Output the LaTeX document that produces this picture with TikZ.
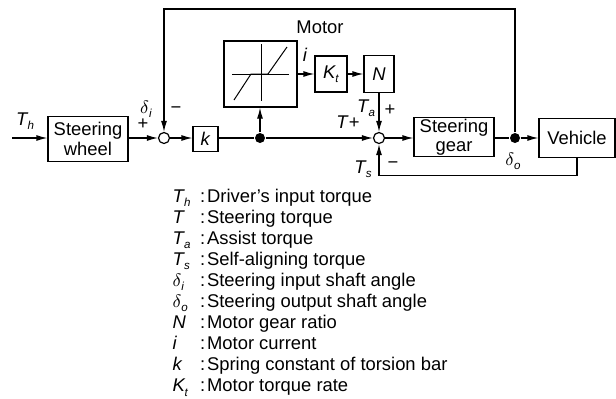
\documentclass[tikz,border=0pt]{standalone}
\usepackage{fontspec}
\setmainfont{Liberation Sans}
\usetikzlibrary{arrows.meta,positioning}
\newcommand{\subx}[1]{\raisebox{-0.45ex}{\fontsize{5.8}{6}\selectfont\textit{#1}}}
\newcommand{\var}[2]{\textit{#1}\kern-0.4pt\subx{#2}}
\newcommand{\dvar}[1]{$\delta$\subx{#1}}

\begin{document}
\begin{tikzpicture}[x=0.5pt,y=-0.5pt,line width=0.6pt,
    font=\fontsize{9.2}{9.6}\selectfont,
    blk/.style={draw,align=center,inner sep=0pt},
    sumpt/.style={draw,circle,fill=white,minimum size=5.5pt,inner sep=0pt},
    dotpt/.style={circle,fill,minimum size=5pt,inner sep=0pt},
    sig/.style={-{Latex[length=5.5pt,width=3pt]}}]
    \useasboundingbox (0,0) rectangle (616,398);
    % blocks of the loop
    \coordinate (in) at (12,138);
    \node [blk,minimum width=40pt,minimum height=22.5pt] (wheel) at (88,139) {Steering\\wheel};
    \node [sumpt] (sumA) at (164,138) {};
    \node [blk,minimum width=12.5pt,minimum height=12.5pt] (kbox) at (205.5,139) {\textit{k}};
    \node [dotpt] (dotA) at (260,138) {};
    \node [blk,minimum width=36.5pt,minimum height=33pt] (motor) at (260.5,74) {};
    \node [blk,minimum width=16pt,minimum height=18pt] (kt) at (331,74) {\var{K}{t}};
    \node [blk,minimum width=15pt,minimum height=18.5pt] (nbox) at (379,74) {\textit{N}};
    \node [sumpt] (sumB) at (379,138) {};
    \node [blk,minimum width=40pt,minimum height=19.5pt] (gear) at (454,137) {Steering\\gear};
    \node [dotpt] (dotB) at (515,138) {};
    \node [blk,minimum width=38pt,minimum height=19.5pt] (vehicle) at (577,138) {Vehicle};
    % motor characteristic
    \draw [line width=0.5pt] (232,74) -- (289,74) (261,44) -- (261,101);
    \draw [line width=0.5pt] (234,100) -- (251,74) -- (268,74) -- (287,47);
    % connectors
    \draw [sig] (in) -- (wheel.west |- in);
    \draw [sig] (wheel.east |- sumA) -- (sumA);
    \draw [sig] (sumA) -- (kbox.west |- sumA);
    \draw (kbox.east |- dotA) -- (dotA);
    \draw [sig] (dotA) -- (sumB);
    \draw [sig] (dotA) -- (motor.south -| dotA);
    \draw [sig] (motor.east |- kt) -- (kt);
    \draw [sig] (kt) -- (nbox);
    \draw [sig] (nbox) -- (sumB);
    \draw [sig] (sumB) -- (gear.west |- sumB);
    \draw (gear.east |- dotB) -- (dotB);
    \draw [sig] (dotB) -- (vehicle.west |- dotB);
    \draw [sig] (dotB) -- ++(0,-129) -| (sumA);
    \draw [sig] (vehicle.south) -- ++(0,17.5) -| (sumB);
    % signal labels
    \node (lTh) at (25,121) {\var{T}{h}};
    \node (lDi) at (146,109) {\dvar{i}};
    \node (pA) at (143,124) {+};
    \node (mA) at (176,110) {−};
    \node (lMotor) at (320,27) {Motor};
    \node (lI) at (305,55) {\textit{i}};
    \node (lTa) at (366,108) {\var{T}{a}};
    \node (pB) at (390,110) {+};
    \node (lT) at (348,122) {\textit{T}+};
    \node (lTs) at (363,169) {\var{T}{s}};
    \node (mB) at (393,165) {−};
    \node (lDo) at (513,161) {\dvar{o}};
    % legend
    \foreach \sym/\txt [count=\n] in {{\var{T}{h}}/Driver's input torque,
        {\textit{T}}/Steering torque, {\var{T}{a}}/Assist torque,
        {\var{T}{s}}/Self-aligning torque, {\dvar{i}}/Steering input shaft angle,
        {\dvar{o}}/Steering output shaft angle, {\textit{N}}/Motor gear ratio,
        {\textit{i}}/Motor current, {\textit{k}}/Spring constant of torsion bar,
        {\var{K}{t}}/Motor torque rate} {
        \node [anchor=base west,inner sep=0pt] (sym\n) at (172,{202+(\n-1)*21.1}) {\sym};
        \node [anchor=base west,inner sep=0pt] (col\n) at (199.5,{202+(\n-1)*21.1}) {:};
        \node [anchor=base west,inner sep=0pt] (txt\n) at (206.5,{202+(\n-1)*21.1}) {\txt};
    }
\end{tikzpicture}
\end{document}
